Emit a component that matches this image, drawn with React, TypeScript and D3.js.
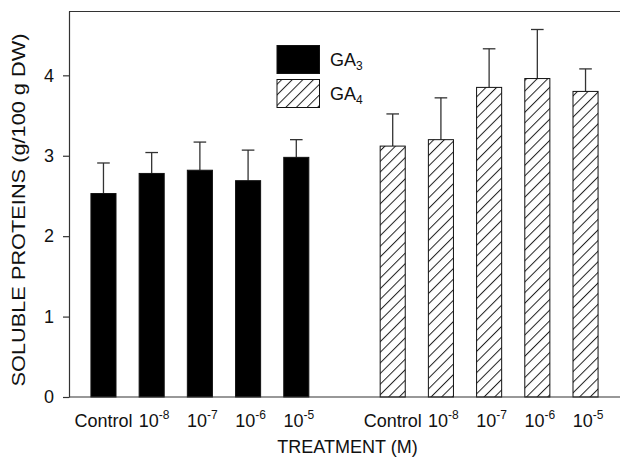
import * as d3 from "d3";
import { useEffect, useRef } from "react";

// ---- data ----
const treatments = ["Control", "10", "10", "10", "10"];
const exponents = ["", "-8", "-7", "-6", "-5"];

const ga3Means = [2.53, 2.78, 2.82, 2.69, 2.98];
const ga3Errors = [0.38, 0.26, 0.35, 0.38, 0.22];

const ga4Means = [3.12, 3.2, 3.85, 3.96, 3.8];
const ga4Errors = [0.4, 0.52, 0.48, 0.61, 0.28];

const yTicks = [0, 1, 2, 3, 4];
const legendItems = [
  { name: "GA", sub: "3", fill: "#000" },
  { name: "GA", sub: "4", fill: "url(#hatch)" },
];

const FONT = "'Liberation Sans', Arial, Helvetica, sans-serif";
const INK = "#111";

export default function App() {
  const refSvg = useRef<SVGSVGElement>(null);

  useEffect(() => {
    const svg = d3.select(refSvg.current);
    svg.selectAll("*").remove();

    const width = 620;
    const left = 69;
    const top = 11;
    const bottom = 397;

    // one slot for each bar plus an empty slot between the two groups
    const slots = [
      ...treatments.map((_, i) => `GA3-${i}`),
      "gap",
      ...treatments.map((_, i) => `GA4-${i}`),
    ];

    const X = d3
      .scaleBand()
      .domain(slots)
      .range([left, width])
      .paddingInner(0.48)
      .paddingOuter(0.455);

    const Y = d3.scaleLinear().domain([0, 4.8]).range([bottom, top]);

    const bars = [
      ...ga3Means.map((m, i) => ({ key: `GA3-${i}`, mean: m, err: ga3Errors[i], fill: "#000", label: i })),
      ...ga4Means.map((m, i) => ({ key: `GA4-${i}`, mean: m, err: ga4Errors[i], fill: "url(#hatch)", label: i })),
    ];

    // ---------- pattern ----------
    const defs = svg.append("defs");
    const pat = defs
      .append("pattern")
      .attr("id", "hatch")
      .attr("patternUnits", "userSpaceOnUse")
      .attr("width", 7.5)
      .attr("height", 10)
      .attr("patternTransform", "rotate(45)");
    pat.append("rect").attr("width", 7.5).attr("height", 10).attr("fill", "#fff");
    pat
      .append("line")
      .attr("x1", 0.5)
      .attr("y1", 0)
      .attr("x2", 0.5)
      .attr("y2", 10)
      .attr("stroke", "#222")
      .attr("stroke-width", 1);

    svg.append("rect").attr("width", 620).attr("height", 457).attr("fill", "#fff");

    // ---------- frame ----------
    svg
      .append("line")
      .attr("x1", left)
      .attr("x2", width)
      .attr("y1", top + 0.5)
      .attr("y2", top + 0.5)
      .attr("stroke", "#333")
      .attr("stroke-width", 1.2);

    // ---------- error bars ----------
    const gErr = svg.append("g").attr("stroke", "#333").attr("stroke-width", 1.3);
    bars.forEach((d) => {
      const cx = X(d.key)! + X.bandwidth() / 2;
      gErr
        .append("line")
        .attr("x1", cx)
        .attr("x2", cx)
        .attr("y1", Y(d.mean))
        .attr("y2", Y(d.mean + d.err));
      gErr
        .append("line")
        .attr("x1", cx - 6.3)
        .attr("x2", cx + 6.3)
        .attr("y1", Y(d.mean + d.err))
        .attr("y2", Y(d.mean + d.err));
    });

    // ---------- bars ----------
    svg
      .append("g")
      .selectAll("rect")
      .data(bars)
      .join("rect")
      .attr("x", (d) => X(d.key)!)
      .attr("y", (d) => Y(d.mean))
      .attr("width", X.bandwidth())
      .attr("height", (d) => Y(0) - Y(d.mean))
      .attr("fill", (d) => d.fill)
      .attr("stroke", "#111")
      .attr("stroke-width", 1);

    // ---------- axes ----------
    const gy = svg
      .append("g")
      .attr("transform", `translate(${left},0)`)
      .call(d3.axisLeft(Y).tickValues(yTicks).tickSize(6).tickSizeOuter(0).tickPadding(9).tickFormat(d3.format("d")));
    gy.selectAll("path, line").attr("stroke", "#333").attr("stroke-width", 1.2);
    gy.selectAll("text").attr("font-size", 18).attr("font-family", FONT).attr("fill", INK);

    svg
      .append("line")
      .attr("x1", left)
      .attr("x2", width)
      .attr("y1", bottom)
      .attr("y2", bottom)
      .attr("stroke", "#333")
      .attr("stroke-width", 1.2);

    // x tick labels
    const gx = svg.append("g").attr("font-family", FONT).attr("font-size", 18).attr("fill", INK);
    bars.forEach((d) => {
      const cx = X(d.key)! + X.bandwidth() / 2;
      const t = gx
        .append("text")
        .attr("x", cx + (exponents[d.label] ? 2.5 : 0))
        .attr("y", 427)
        .attr("text-anchor", "middle");
      t.append("tspan").text(treatments[d.label]);
      if (exponents[d.label]) {
        t.append("tspan").attr("font-size", 12).attr("dy", -8).text(exponents[d.label]);
      }
    });

    // axis titles
    svg
      .append("text")
      .text("TREATMENT (M)")
      .attr("x", 347.5)
      .attr("y", 453)
      .attr("text-anchor", "middle")
      .attr("font-family", FONT)
      .attr("font-size", 18)
      .attr("fill", INK);

    svg
      .append("text")
      .text("SOLUBLE PROTEINS (g/100 g DW)")
      .attr("transform", "translate(25,210) rotate(-90)")
      .attr("text-anchor", "middle")
      .attr("font-family", FONT)
      .attr("font-size", 18.5)
      .attr("textLength", 353)
      .attr("lengthAdjust", "spacingAndGlyphs")
      .attr("fill", INK);

    // ---------- legend ----------
    const gLeg = svg.append("g");
    legendItems.forEach((item, i) => {
      const y0 = 45.5 + i * 34;
      gLeg
        .append("rect")
        .attr("x", 277)
        .attr("y", y0)
        .attr("width", 42.5)
        .attr("height", 28)
        .attr("fill", item.fill)
        .attr("stroke", "#111")
        .attr("stroke-width", 1);
      const t = gLeg
        .append("text")
        .attr("x", 330)
        .attr("y", y0 + 20)
        .attr("font-family", FONT)
        .attr("font-size", 18)
        .attr("fill", INK);
      t.append("tspan").text(item.name);
      t.append("tspan").attr("font-size", 12).attr("dy", 4).text(item.sub);
    });
  }, []);

  return (
    <svg
      ref={refSvg}
      width={620}
      height={457}
      style={{ position: "absolute", left: 0, top: 0, background: "#fff" }}
    ></svg>
  );
}
